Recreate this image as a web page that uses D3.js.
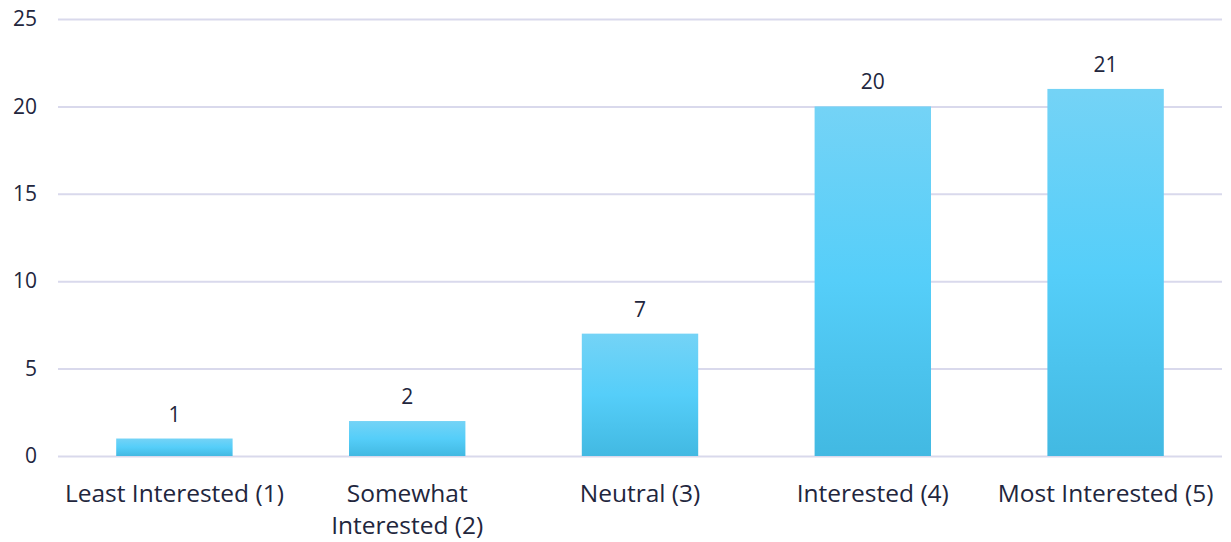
<!DOCTYPE html>
<html>
<head>
<meta charset="utf-8">
<script src="https://cdn.jsdelivr.net/npm/d3@7"></script>
<style>
  html, body { margin: 0; padding: 0; background: #ffffff; }
  svg { display: block; }
</style>
</head>
<body>
<svg id="chart" width="1231" height="542"></svg>
<script>
// Survey responses: level of interest
const categories = [
  ["Least Interested (1)"],
  ["Somewhat", "Interested (2)"],
  ["Neutral (3)"],
  ["Interested (4)"],
  ["Most Interested (5)"]
];
const counts = [1, 2, 7, 20, 21];
const yTicks = [0, 5, 10, 15, 20, 25];

const W = 1231, H = 542;
const margin = { top: 19, right: 9, bottom: 86, left: 58 };
const textColor = "#22263d";
const gridColor = "#d9d9ec";
const fontFamily = "'Open Sans', 'Noto Sans', sans-serif";

const svg = d3.select("#chart");

// Vertical gradient applied to each bar
const defs = svg.append("defs");
const grad = defs.append("linearGradient")
  .attr("id", "barFill")
  .attr("x1", 0).attr("y1", 0).attr("x2", 0).attr("y2", 1);
grad.append("stop").attr("offset", "0%").attr("stop-color", "#74d3f6");
grad.append("stop").attr("offset", "50%").attr("stop-color", "#55cef9");
grad.append("stop").attr("offset", "100%").attr("stop-color", "#42b9e2");

const x = d3.scaleBand()
  .domain(categories.map((d, i) => i))
  .range([margin.left, W - margin.right])
  .paddingInner(0.5)
  .paddingOuter(0.25);

const y = d3.scaleLinear()
  .domain([0, 25])
  .range([H - margin.bottom, margin.top]);

// Horizontal gridlines and value axis labels
const yAxis = d3.axisLeft(y)
  .tickValues(yTicks)
  .tickSize(-(W - margin.left - margin.right))
  .tickPadding(21)
  .tickFormat(d3.format("d"));

const gy = svg.append("g")
  .attr("transform", `translate(${margin.left},0)`)
  .call(yAxis);
gy.select(".domain").remove();
gy.selectAll(".tick line")
  .attr("stroke", gridColor)
  .attr("stroke-width", 2);
gy.selectAll(".tick text")
  .attr("fill", textColor)
  .attr("font-family", fontFamily)
  .attr("font-size", 21);

// Bars
svg.append("g").selectAll("rect")
  .data(counts)
  .join("rect")
  .attr("x", (d, i) => x(i))
  .attr("width", x.bandwidth())
  .attr("y", d => y(d))
  .attr("height", d => y(0) - y(d))
  .attr("fill", "url(#barFill)");

// Value labels above bars
svg.append("g").selectAll("text")
  .data(counts)
  .join("text")
  .attr("x", (d, i) => x(i) + x.bandwidth() / 2)
  .attr("y", d => y(d) - 17)
  .attr("text-anchor", "middle")
  .attr("fill", textColor)
  .attr("font-family", fontFamily)
  .attr("font-size", 21)
  .text(d => d);

// Category labels (wrapped where needed)
const cat = svg.append("g").selectAll("text")
  .data(categories)
  .join("text")
  .attr("x", (d, i) => x(i) + x.bandwidth() / 2)
  .attr("y", 502)
  .attr("text-anchor", "middle")
  .attr("fill", textColor)
  .attr("font-family", fontFamily)
  .attr("font-size", 24.5);
cat.selectAll("tspan")
  .data(d => d)
  .join("tspan")
  .attr("x", function () { return d3.select(this.parentNode).attr("x"); })
  .attr("dy", (d, i) => i === 0 ? 0 : 32)
  .text(d => d);
</script>
</body>
</html>
